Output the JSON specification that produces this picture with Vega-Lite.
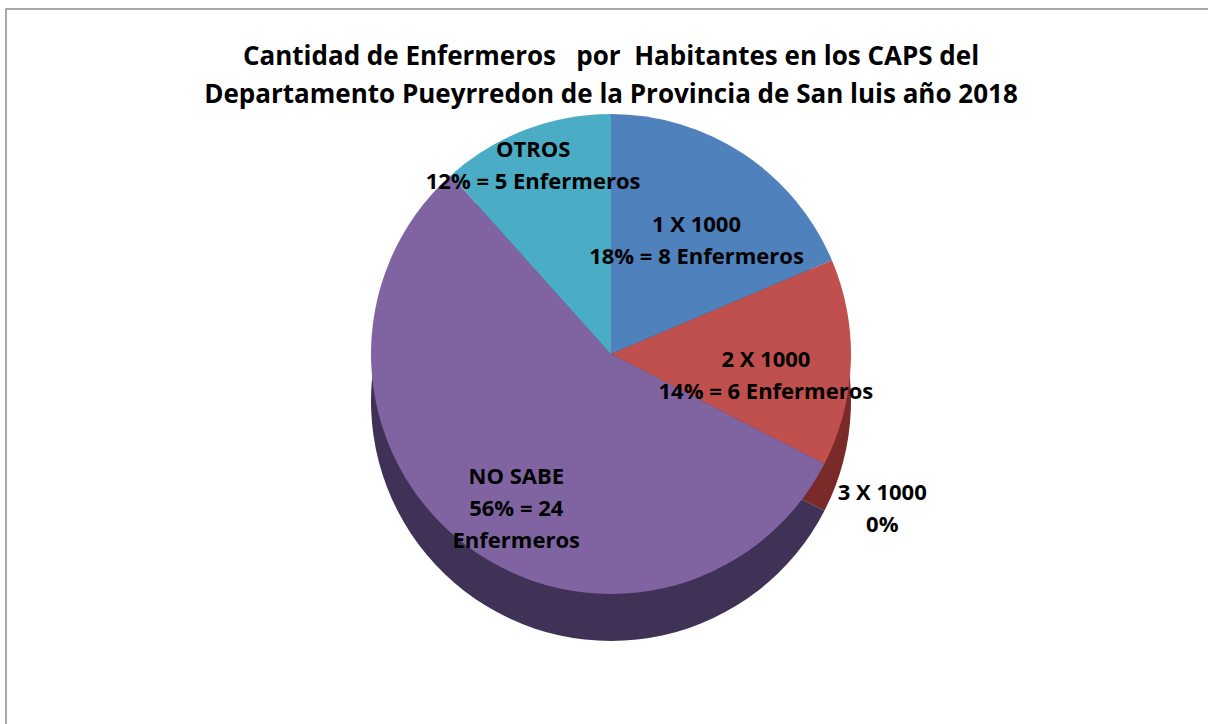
{
  "$schema": "https://vega.github.io/schema/vega-lite/v6.json",
  "width": 1210,
  "height": 720,
  "padding": {"left": 5, "top": 8, "right": 0, "bottom": 0},
  "background": "white",
  "config": {
    "view": {"stroke": null},
    "font": "Open Sans"
  },
  "title": {
    "text": ["Cantidad de Enfermeros \u00a0 por \u00a0Habitantes en los CAPS del", "Departamento Pueyrredon de la Provincia de San luis año 2018"],
    "font": "Open Sans",
    "fontSize": 26,
    "fontWeight": "bold",
    "color": "#000000",
    "lineHeight": 38,
    "anchor": "middle",
    "offset": -100
  },
  "resolve": {"scale": {"color": "independent"}},
  "layer": [
    {
      "data": {"values": [{"borde": "marco"}]},
      "mark": {"type": "rect", "fill": null, "stroke": "#8c8c8c", "strokeWidth": 1.5},
      "encoding": {}
    },
    {
      "data": {"name": "enfermeros"},
      "layer": [
        {
          "mark": {"type": "arc", "outerRadius": 240, "yOffset": 32},
          "encoding": {
            "theta": {"field": "enfermeros", "type": "quantitative", "stack": true},
            "color": {
              "field": "categoria",
              "type": "nominal",
              "scale": {
                "domain": ["1 X 1000", "2 X 1000", "3 X 1000", "NO SABE", "OTROS"],
                "range": ["#2f4f78", "#7a2a28", "#5f7535", "#3f3256", "#2e7a8d"]
              },
              "legend": null
            }
          }
        },
        {
          "mark": {"type": "arc", "outerRadius": 240, "yOffset": -15},
          "encoding": {
            "theta": {"field": "enfermeros", "type": "quantitative", "stack": true},
            "fill": {
              "field": "categoria",
              "type": "nominal",
              "scale": {
                "domain": ["1 X 1000", "2 X 1000", "3 X 1000", "NO SABE", "OTROS"],
                "range": ["#4f81bd", "#c0504d", "#9bbb59", "#8064a2", "#4bacc6"]
              },
              "legend": null
            }
          }
        },
        {
          "mark": {"type": "text", "radius": 155, "yOffset": -15, "fontSize": 22, "fontWeight": "bold", "font": "Open Sans", "color": "#000000", "lineBreak": "\n", "lineHeight": 32},
          "encoding": {
            "theta": {"field": "enfermeros", "type": "quantitative", "stack": true},
            "detail": {"field": "categoria", "type": "nominal"},
            "text": {"condition": {"test": "datum.categoria === '3 X 1000' || datum.categoria === 'OTROS'", "value": ""}, "field": "etiqueta"}
          }
        },
        {
          "mark": {"type": "text", "radius": 218, "yOffset": -15, "fontSize": 22, "fontWeight": "bold", "font": "Open Sans", "color": "#000000", "lineBreak": "\n", "lineHeight": 32},
          "encoding": {
            "theta": {"field": "enfermeros", "type": "quantitative", "stack": true},
            "detail": {"field": "categoria", "type": "nominal"},
            "text": {"condition": {"test": "datum.categoria !== 'OTROS'", "value": ""}, "field": "etiqueta"}
          }
        },
        {
          "mark": {"type": "text", "radius": 305, "yOffset": -15, "fontSize": 22, "fontWeight": "bold", "font": "Open Sans", "color": "#000000", "lineBreak": "\n", "lineHeight": 32},
          "encoding": {
            "theta": {"field": "enfermeros", "type": "quantitative", "stack": true},
            "detail": {"field": "categoria", "type": "nominal"},
            "text": {"condition": {"test": "datum.categoria !== '3 X 1000'", "value": ""}, "field": "etiqueta"}
          }
        }
      ]
    }
  ],
  "datasets": {
    "enfermeros": [
      {"categoria": "1 X 1000", "enfermeros": 8, "etiqueta": "1 X 1000\n18% = 8 Enfermeros"},
      {"categoria": "2 X 1000", "enfermeros": 6, "etiqueta": "2 X 1000\n14% = 6 Enfermeros"},
      {"categoria": "3 X 1000", "enfermeros": 0, "etiqueta": "3 X 1000\n0%"},
      {"categoria": "NO SABE", "enfermeros": 24, "etiqueta": "NO SABE\n56% = 24\nEnfermeros"},
      {"categoria": "OTROS", "enfermeros": 5, "etiqueta": "OTROS\n12% = 5 Enfermeros"}
    ]
  }
}
